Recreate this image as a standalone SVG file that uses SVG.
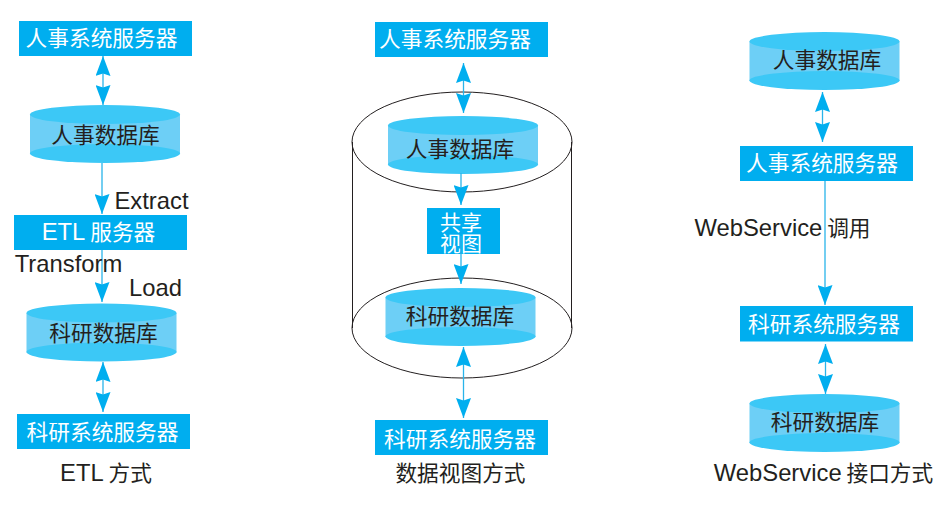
<svg xmlns="http://www.w3.org/2000/svg" width="945" height="505" viewBox="0 0 945 505">
<style>
text{font-family:"Noto Sans CJK SC","Liberation Sans",sans-serif;font-size:21.7px;text-anchor:middle;fill:#231f20}
.w{fill:#fff}
.l{font-family:"Liberation Sans","Noto Sans CJK SC",sans-serif;font-size:23.8px}
.box{fill:#00aeef}
.side{fill:#6dcff6}
.cap{fill:#3cc8f6}
.c{stroke:#29b4ea;stroke-width:1.3;fill:none}
.big{stroke:#231f20;stroke-width:1;fill:none}
</style>
<defs>
<marker id="a" markerUnits="userSpaceOnUse" markerWidth="20" markerHeight="15" refX="20" refY="7.500" viewBox="0 0 20 15" orient="auto-start-reverse"><path d="M0 0L20 7.500L0 15L2.500 7.500Z" fill="#00aeef"/></marker>
<g id="cyl"><path class="side" d="M-75 9.500V49H75V9.500Z"/><ellipse class="cap" cx="0" cy="9.500" rx="75" ry="9.500"/><ellipse class="cap" cx="0" cy="48.500" rx="75" ry="9.500"/></g>
</defs>
<g id="frame" class="big">
<ellipse cx="462" cy="142" rx="110" ry="50"/>
<ellipse cx="462" cy="328" rx="110" ry="50"/>
<path d="M352.500 142V328M571.500 142V328"/>
</g>
<g id="n1"><rect class="box" x="19" y="21" width="173" height="35"/><text class="w" x="101.500" y="46">人事系统服务器</text></g>
<g id="n2"><use href="#cyl" x="105" y="105"/><text x="105.500" y="143">人事数据库</text></g>
<g id="n3"><rect class="box" x="14" y="215" width="173" height="35"/><text class="w" x="98.500" y="240"><tspan class="l">ETL</tspan> 服务器</text></g>
<g id="n4"><use href="#cyl" x="101.500" y="303.500"/><text x="103.500" y="341">科研数据库</text></g>
<g id="n5"><rect class="box" x="17" y="414" width="173" height="35"/><text class="w" x="102.500" y="440">科研系统服务器</text></g>
<g id="n6"><rect class="box" x="375" y="22" width="173" height="35"/><text class="w" x="455" y="47">人事系统服务器</text></g>
<g id="n7"><use href="#cyl" x="463" y="116"/><text x="460" y="157">人事数据库</text></g>
<g id="n8"><rect class="box" x="427" y="208" width="73" height="46"/><text class="w" style="font-size:21px"><tspan x="461" y="230">共享</tspan><tspan x="461" y="251">视图</tspan></text></g>
<g id="n9"><use href="#cyl" x="460.500" y="288"/><text x="460" y="324">科研数据库</text></g>
<g id="n10"><rect class="box" x="375" y="420" width="173" height="35"/><text class="w" x="460" y="447">科研系统服务器</text></g>
<g id="n11"><use href="#cyl" x="824.500" y="32"/><text x="827" y="68">人事数据库</text></g>
<g id="n12"><rect class="box" x="740" y="146" width="173" height="35"/><text class="w" x="822" y="171">人事系统服务器</text></g>
<g id="n13"><rect class="box" x="740" y="306" width="173" height="35.500"/><text class="w" x="824" y="332">科研系统服务器</text></g>
<g id="n14"><use href="#cyl" x="824.500" y="394"/><text x="825" y="430">科研数据库</text></g>
<g id="connectors" class="c">
<path d="M103 56V105" marker-start="url(#a)" marker-end="url(#a)"/>
<path d="M102 163V214" marker-end="url(#a)"/>
<path d="M102 250V302" marker-end="url(#a)"/>
<path d="M103 362V412" marker-start="url(#a)" marker-end="url(#a)"/>
<path d="M463.500 63V113" marker-start="url(#a)" marker-end="url(#a)"/>
<path d="M461 173V205" marker-end="url(#a)"/>
<path d="M461 236V284" marker-end="url(#a)"/>
<path d="M463.500 347V418" marker-start="url(#a)" marker-end="url(#a)"/>
<path d="M822.500 92V142" marker-start="url(#a)" marker-end="url(#a)"/>
<path d="M825 181V305" marker-end="url(#a)"/>
<path d="M825.500 344V394" marker-start="url(#a)" marker-end="url(#a)"/>
</g>
<g id="labels">
<text class="l" x="151.500" y="208.500">Extract</text>
<text class="l" x="68.500" y="272">Transform</text>
<text class="l" x="155.500" y="296">Load</text>
<text x="782.500" y="236"><tspan class="l">WebService</tspan> 调用</text>
<text x="106" y="481"><tspan class="l">ETL</tspan> 方式</text>
<text x="460.500" y="481">数据视图方式</text>
<text x="823.500" y="481"><tspan class="l">WebService</tspan> 接口方式</text>
</g>
</svg>
